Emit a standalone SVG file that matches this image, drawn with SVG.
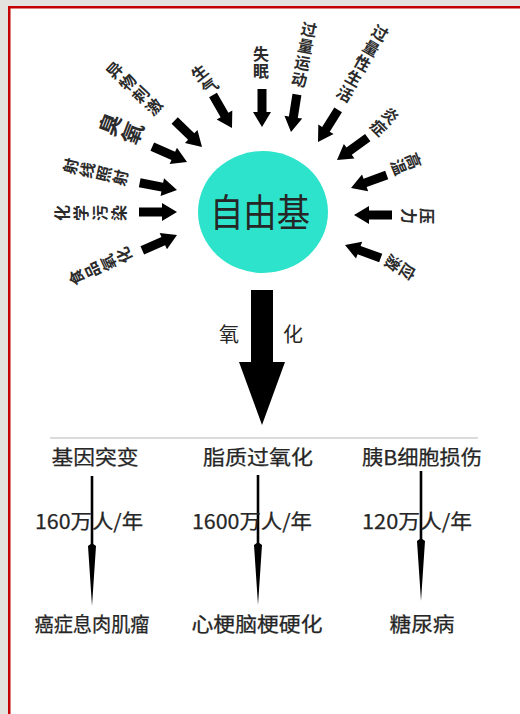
<svg xmlns="http://www.w3.org/2000/svg" width="520" height="714" viewBox="0 0 520 714">
<style>
  text { font-family: "Noto Sans CJK SC", "Liberation Sans", sans-serif; fill: #262626; }
  .rad { font-size: 16px; font-weight: 600; writing-mode: vertical-rl; text-anchor: middle; fill: #2b2b2b; }
  .big { font-size: 22px; font-weight: bold; }
  .lbl { font-size: 20px; text-anchor: middle; stroke: #262626; stroke-width: 0.25; }
  .ra { fill: #000; }
</style>
<defs>
  <path id="ra" d="M-4.5,-38 L4.5,-38 L4.5,-15 L9,-15 L0,0 L-9,-15 L-4.5,-15 Z"/>
  <path id="sa" d="M-1.3,0 L1.3,0 L1.3,68 L4,70 L0,130 L-4,70 L-1.3,68 Z"/>
</defs>
<rect x="0" y="0" width="520" height="714" fill="#e4e2de"/>
<rect x="8" y="6" width="512" height="708" fill="#ffffff"/>
<rect x="8" y="6" width="512" height="2.5" fill="#c40000"/>
<rect x="8" y="6" width="2.5" height="708" fill="#c40000"/>

<g id="connectors">
  <use href="#ra" class="ra" transform="translate(262,127) rotate(0)"/>
  <use href="#ra" class="ra" transform="translate(291,132) rotate(9)"/>
  <use href="#ra" class="ra" transform="translate(318,142) rotate(32)"/>
  <use href="#ra" class="ra" transform="translate(337,160) rotate(54)"/>
  <use href="#ra" class="ra" transform="translate(351,188) rotate(70)"/>
  <use href="#ra" class="ra" transform="translate(354,215) rotate(90)"/>
  <use href="#ra" class="ra" transform="translate(345,245) rotate(110)"/>
  <use href="#ra" class="ra" transform="translate(177,235) rotate(-114)"/>
  <use href="#ra" class="ra" transform="translate(177,212) rotate(-90)"/>
  <use href="#ra" class="ra" transform="translate(177,190) rotate(-79)"/>
  <use href="#ra" class="ra" transform="translate(187,162) rotate(-66)"/>
  <use href="#ra" class="ra" transform="translate(202,147) rotate(-46)"/>
  <use href="#ra" class="ra" transform="translate(232,128) rotate(-30)"/>
  <polygon points="251,290 273,290 273,362 285,362 262,425 239,362 251,362" fill="#000"/>
  <line x1="50" y1="438" x2="478" y2="438" stroke="#cfcfcf" stroke-width="1.5"/>
  <use href="#sa" class="ra" transform="translate(92,476)"/>
  <use href="#sa" class="ra" transform="translate(258,475)"/>
  <use href="#sa" class="ra" transform="translate(421,471)"/>
</g>

<g id="free-radical">
  <ellipse cx="263" cy="212" rx="65" ry="61" fill="#2ee3cb"/>
  <text x="260" y="226" font-size="38" text-anchor="middle" textLength="100" lengthAdjust="spacingAndGlyphs">自由基</text>
</g>

<g id="n-shimian"><text class="rad" letter-spacing="1" transform="translate(261,63) rotate(0)">失眠</text></g>
<g id="n-guoliangyundong"><text class="rad" letter-spacing="1" transform="translate(304,55) rotate(11)">过量运动</text></g>
<g id="n-guoliangxingshenghuo"><text class="rad" letter-spacing="1.5" transform="translate(362,64) rotate(30)">过量性生活</text></g>
<g id="n-yanzheng"><text class="rad" letter-spacing="1" transform="translate(384,122) rotate(45)">炎症</text></g>
<g id="n-gaowen"><text class="rad" letter-spacing="0" transform="translate(406,164) rotate(68)">高温</text></g>
<g id="n-yali"><text class="rad" letter-spacing="2" transform="translate(417,216) rotate(90)">压力</text></g>
<g id="n-yingji"><text class="rad" letter-spacing="1" transform="translate(400,267) rotate(121)">应激</text></g>
<g id="n-shipinyanghua"><text class="rad" letter-spacing="1.5" transform="translate(101,266) rotate(-115)">食品氧化</text></g>
<g id="n-huaxuewuran"><text class="rad" letter-spacing="3" transform="translate(92,213) rotate(-90)">化学污染</text></g>
<g id="n-shexianzhaoshe"><text class="rad" letter-spacing="1" transform="translate(96,172) rotate(-77)">射线照射</text></g>
<g id="n-chouyang"><text class="rad big" letter-spacing="2" transform="translate(122,129) rotate(-69)">臭氧</text></g>
<g id="n-yiwuciji"><text class="rad" letter-spacing="2" font-size="15" transform="translate(135,89) rotate(-47)">异物刺激</text></g>
<g id="n-shengqi"><text class="rad" letter-spacing="1" transform="translate(205,80) rotate(-38)">生气</text></g>

<g id="oxidation-label">
  <text x="229" y="342" font-size="20" text-anchor="middle" fill="#333">氧</text>
  <text x="293" y="342" font-size="20" text-anchor="middle" fill="#333">化</text>
</g>

<g id="col-gene">
  <text class="lbl" x="95" y="465" textLength="87" lengthAdjust="spacingAndGlyphs">基因突变</text>
  <text class="lbl" x="89" y="529" textLength="108" lengthAdjust="spacingAndGlyphs">160万人/年</text>
  <text class="lbl" x="92" y="632" textLength="115" lengthAdjust="spacingAndGlyphs">癌症息肉肌瘤</text>
</g>
<g id="col-lipid">
  <text class="lbl" x="258" y="465" textLength="110" lengthAdjust="spacingAndGlyphs">脂质过氧化</text>
  <text class="lbl" x="252" y="529" textLength="120" lengthAdjust="spacingAndGlyphs">1600万人/年</text>
  <text class="lbl" x="257" y="632" textLength="131" lengthAdjust="spacingAndGlyphs">心梗脑梗硬化</text>
</g>
<g id="col-pancreas">
  <text class="lbl" x="422" y="465" textLength="120" lengthAdjust="spacingAndGlyphs">胰B细胞损伤</text>
  <text class="lbl" x="417" y="529" textLength="110" lengthAdjust="spacingAndGlyphs">120万人/年</text>
  <text class="lbl" x="422" y="632" textLength="65" lengthAdjust="spacingAndGlyphs">糖尿病</text>
</g>
</svg>
